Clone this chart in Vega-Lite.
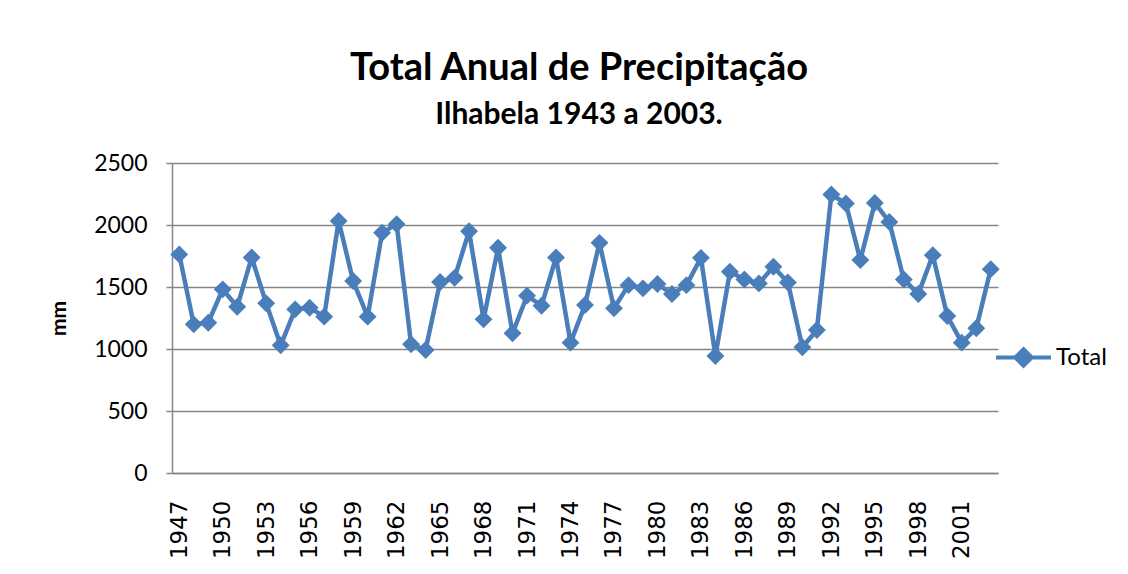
{
  "$schema": "https://vega.github.io/schema/vega-lite/v6.json",
  "autosize": {"type": "none"},
  "width": 826,
  "height": 310,
  "padding": {"left": 172, "top": 163, "right": 130, "bottom": 101},
  "background": "white",
  "title": {
    "text": "Total Anual de Precipitação",
    "subtitle": "Ilhabela 1943 a 2003.",
    "font": "Lato",
    "fontSize": 38,
    "fontWeight": "bold",
    "color": "black",
    "subtitleFont": "Lato",
    "subtitleFontSize": 30,
    "subtitleFontWeight": "bold",
    "subtitleColor": "black",
    "subtitlePadding": 12,
    "anchor": "middle",
    "dx": -6,
    "offset": 22
  },
  "data": {
    "values": [
      {"year": 1947, "mm": 1763, "serie": "Total"},
      {"year": 1948, "mm": 1199, "serie": "Total"},
      {"year": 1949, "mm": 1212, "serie": "Total"},
      {"year": 1950, "mm": 1481, "serie": "Total"},
      {"year": 1951, "mm": 1341, "serie": "Total"},
      {"year": 1952, "mm": 1738, "serie": "Total"},
      {"year": 1953, "mm": 1368, "serie": "Total"},
      {"year": 1954, "mm": 1030, "serie": "Total"},
      {"year": 1955, "mm": 1320, "serie": "Total"},
      {"year": 1956, "mm": 1333, "serie": "Total"},
      {"year": 1957, "mm": 1261, "serie": "Total"},
      {"year": 1958, "mm": 2033, "serie": "Total"},
      {"year": 1959, "mm": 1548, "serie": "Total"},
      {"year": 1960, "mm": 1261, "serie": "Total"},
      {"year": 1961, "mm": 1937, "serie": "Total"},
      {"year": 1962, "mm": 2007, "serie": "Total"},
      {"year": 1963, "mm": 1038, "serie": "Total"},
      {"year": 1964, "mm": 992, "serie": "Total"},
      {"year": 1965, "mm": 1540, "serie": "Total"},
      {"year": 1966, "mm": 1574, "serie": "Total"},
      {"year": 1967, "mm": 1950, "serie": "Total"},
      {"year": 1968, "mm": 1239, "serie": "Total"},
      {"year": 1969, "mm": 1816, "serie": "Total"},
      {"year": 1970, "mm": 1127, "serie": "Total"},
      {"year": 1971, "mm": 1430, "serie": "Total"},
      {"year": 1972, "mm": 1349, "serie": "Total"},
      {"year": 1973, "mm": 1738, "serie": "Total"},
      {"year": 1974, "mm": 1051, "serie": "Total"},
      {"year": 1975, "mm": 1355, "serie": "Total"},
      {"year": 1976, "mm": 1856, "serie": "Total"},
      {"year": 1977, "mm": 1328, "serie": "Total"},
      {"year": 1978, "mm": 1515, "serie": "Total"},
      {"year": 1979, "mm": 1489, "serie": "Total"},
      {"year": 1980, "mm": 1524, "serie": "Total"},
      {"year": 1981, "mm": 1443, "serie": "Total"},
      {"year": 1982, "mm": 1515, "serie": "Total"},
      {"year": 1983, "mm": 1735, "serie": "Total"},
      {"year": 1984, "mm": 944, "serie": "Total"},
      {"year": 1985, "mm": 1623, "serie": "Total"},
      {"year": 1986, "mm": 1561, "serie": "Total"},
      {"year": 1987, "mm": 1529, "serie": "Total"},
      {"year": 1988, "mm": 1663, "serie": "Total"},
      {"year": 1989, "mm": 1537, "serie": "Total"},
      {"year": 1990, "mm": 1014, "serie": "Total"},
      {"year": 1991, "mm": 1153, "serie": "Total"},
      {"year": 1992, "mm": 2246, "serie": "Total"},
      {"year": 1993, "mm": 2173, "serie": "Total"},
      {"year": 1994, "mm": 1717, "serie": "Total"},
      {"year": 1995, "mm": 2178, "serie": "Total"},
      {"year": 1996, "mm": 2025, "serie": "Total"},
      {"year": 1997, "mm": 1561, "serie": "Total"},
      {"year": 1998, "mm": 1443, "serie": "Total"},
      {"year": 1999, "mm": 1757, "serie": "Total"},
      {"year": 2000, "mm": 1266, "serie": "Total"},
      {"year": 2001, "mm": 1051, "serie": "Total"},
      {"year": 2002, "mm": 1167, "serie": "Total"},
      {"year": 2003, "mm": 1644, "serie": "Total"}
    ]
  },
  "mark": {
    "type": "line",
    "strokeWidth": 4.5,
    "point": {"shape": "diamond", "size": 320, "filled": true, "color": "#4A7EBB", "opacity": 1}
  },
  "encoding": {
    "x": {
      "field": "year",
      "type": "ordinal",
      "scale": {"type": "point", "padding": 0.5},
      "axis": {
        "title": null,
        "values": [1947, 1950, 1953, 1956, 1959, 1962, 1965, 1968, 1971, 1974, 1977, 1980, 1983, 1986, 1989, 1992, 1995, 1998, 2001],
        "labelAngle": -90,
        "labelFont": "DejaVu Sans",
        "labelFontSize": 23,
        "labelColor": "black",
        "labelPadding": 27,
        "ticks": false,
        "domainColor": "#868686",
        "domainWidth": 1.5,
        "grid": false
      }
    },
    "y": {
      "field": "mm",
      "type": "quantitative",
      "scale": {"domain": [0, 2500], "nice": false},
      "axis": {
        "title": "mm",
        "titleFont": "Lato",
        "titleFontSize": 21,
        "titleFontWeight": "bold",
        "titleColor": "black",
        "titlePadding": 24,
        "format": "d",
        "values": [0, 500, 1000, 1500, 2000, 2500],
        "labelFont": "Lato",
        "labelFontSize": 23,
        "labelColor": "black",
        "labelPadding": 19,
        "tickSize": 6,
        "tickColor": "#868686",
        "tickWidth": 1.5,
        "domainColor": "#868686",
        "domainWidth": 1.5,
        "grid": true,
        "gridColor": "#868686",
        "gridWidth": 1.5
      }
    },
    "color": {
      "field": "serie",
      "type": "nominal",
      "scale": {"range": ["#4A7EBB"]},
      "legend": {
        "title": null,
        "orient": "none",
        "legendX": 822,
        "legendY": 165,
        "symbolType": "M-1,0H1M0,-0.3L0.3,0L0,0.3L-0.3,0Z",
        "symbolSize": 3025,
        "symbolStrokeWidth": 4,
        "symbolFillColor": "#4A7EBB",
        "symbolStrokeColor": "#4A7EBB",
        "labelFont": "Lato",
        "labelFontSize": 24,
        "labelColor": "black",
        "labelOffset": 3
      }
    }
  },
  "config": {
    "view": {"stroke": null}
  }
}
